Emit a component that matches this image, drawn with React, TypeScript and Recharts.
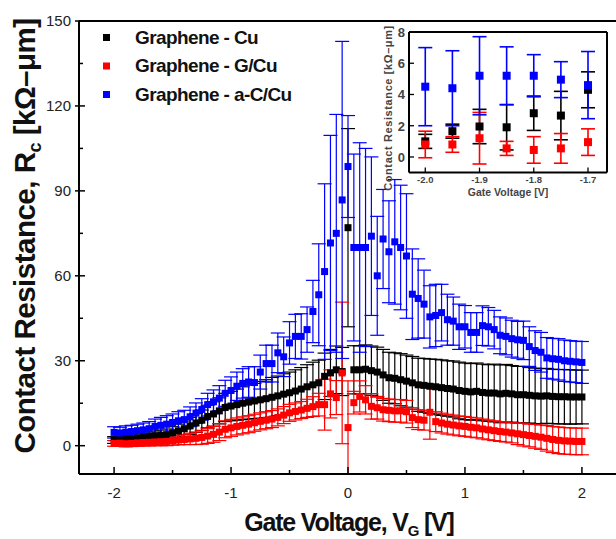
import React from 'react';
import { ScatterChart, Scatter, XAxis, YAxis, ErrorBar, ReferenceLine, Label } from 'recharts';

const voltage = [
  -2.0, -1.95, -1.9, -1.85, -1.8, -1.75, -1.7, -1.65, -1.6, -1.55,
  -1.5, -1.45, -1.4, -1.35, -1.3, -1.25, -1.2, -1.15, -1.1, -1.05,
  -1.0, -0.95, -0.9, -0.85, -0.8, -0.75, -0.7, -0.65, -0.6, -0.55,
  -0.5, -0.45, -0.4, -0.35, -0.3, -0.25, -0.2, -0.15, -0.1, -0.05,
  0.0,
  0.05, 0.1, 0.15, 0.2, 0.25, 0.3, 0.35, 0.4, 0.45, 0.5,
  0.55, 0.6, 0.65, 0.7, 0.75, 0.8, 0.85, 0.9, 0.95, 1.0,
  1.05, 1.1, 1.15, 1.2, 1.25, 1.3, 1.35, 1.4, 1.45, 1.5,
  1.55, 1.6, 1.65, 1.7, 1.75, 1.8, 1.85, 1.9, 1.95, 2.0,
];

const rcCu = [
  2.0, 2.2, 2.3, 2.4, 2.6, 2.9, 3.2, 3.5, 3.7, 3.9,
  4.5, 5.2, 6.0, 7.0, 8.0, 9.0, 10.3, 11.2, 12.3, 13.5,
  14.0, 14.5, 15.0, 15.4, 15.8, 16.2, 16.6, 17.1, 17.6, 18.2,
  18.7, 19.3, 20.0, 20.8, 21.5, 22.2, 24.5, 25.7, 26.8, 26.2,
  77.0,
  26.8, 26.8, 27.0, 26.5, 26.0, 25.0, 24.0, 23.8, 23.3, 22.8,
  22.2, 21.5, 21.3, 21.0, 20.8, 20.5, 20.2, 20.0, 19.5, 19.2,
  19.0, 19.2, 18.8, 18.6, 18.6, 18.3, 18.5, 18.3, 18.0, 18.0,
  17.8, 17.6, 17.5, 17.6, 17.4, 17.3, 17.3, 17.2, 17.2, 17.2,
];
const errCu = [
  1.2, 1.3, 1.3, 1.4, 1.5, 1.5, 1.6, 1.7, 1.8, 2.0,
  2.2, 2.4, 2.7, 3.0, 3.3, 3.6, 4.0, 4.3, 4.6, 5.0,
  5.2, 5.5, 5.8, 6.0, 6.2, 6.5, 6.7, 7.0, 7.0, 7.2,
  7.3, 7.5, 7.6, 7.8, 8.0, 8.0, 8.2, 8.3, 8.4, 8.5,
  35.0,
  8.5, 8.5, 8.6, 8.7, 8.8, 9.0, 9.0, 9.0, 9.2, 9.2,
  9.3, 9.4, 9.5, 9.6, 9.7, 9.8, 9.8, 9.9, 10.0, 10.0,
  10.0, 10.0, 10.0, 10.0, 10.2, 10.2, 10.2, 10.0, 10.0, 10.0,
  9.8, 9.8, 9.7, 9.7, 9.6, 9.6, 9.6, 9.6, 9.5, 9.5,
];

const rcGCu = [
  0.8, 0.9, 0.7, 0.8, 1.0, 1.1, 1.2, 1.3, 1.4, 1.5,
  1.8, 2.0, 2.2, 2.4, 2.6, 2.9, 3.4, 4.0, 4.8, 5.8,
  6.3, 6.8, 7.2, 7.6, 8.1, 8.6, 9.0, 9.4, 10.0, 10.8,
  11.6, 12.1, 12.6, 13.2, 13.8, 14.5, 14.5, 18.3, 17.0, 25.7,
  6.4,
  15.2, 17.4, 16.2, 13.9, 13.4, 12.7, 12.5, 12.3, 12.3, 12.0,
  9.9, 9.2, 9.0, 11.8, 8.5, 8.0, 7.6, 7.3, 7.0, 6.8,
  6.5, 6.3, 5.9, 5.6, 5.3, 5.0, 4.8, 4.5, 4.2, 3.9,
  3.6, 3.3, 3.0, 2.6, 2.2, 1.9, 1.7, 1.6, 1.5, 1.5,
];
const errGCu = [
  1.0, 1.0, 1.1, 1.1, 1.2, 1.2, 1.3, 1.3, 1.4, 1.5,
  1.6, 1.7, 1.8, 2.0, 2.2, 2.4, 2.6, 2.8, 3.0, 3.0,
  3.0, 3.0, 3.0, 3.0, 3.0, 3.0, 3.0, 3.0, 3.0, 3.0,
  3.0, 3.0, 3.0, 3.2, 3.5, 4.0, 9.0, 8.5, 6.0, 25.0,
  16.5,
  4.0, 5.5, 5.0, 4.5, 4.0, 4.0, 4.0, 4.0, 4.0, 4.0,
  3.5, 3.5, 3.5, 9.5, 3.5, 3.5, 3.5, 3.5, 3.5, 3.5,
  3.5, 3.5, 3.5, 3.5, 3.5, 3.5, 3.5, 3.5, 3.8, 4.0,
  4.0, 4.2, 4.3, 4.5, 4.6, 4.7, 4.7, 4.7, 4.7, 4.7,
];

const rcACCu = [
  4.7, 4.5, 4.8, 5.0, 5.3, 5.6, 6.0, 6.8, 7.2, 7.6,
  8.2, 8.8, 9.2, 10.2, 11.5, 12.8, 14.5, 15.5, 16.8, 18.5,
  19.5, 21.0, 22.0, 22.5, 22.3, 26.0, 29.0, 29.0, 32.8, 31.4,
  36.3, 38.6, 38.6, 41.0, 47.4, 53.3, 61.5, 71.6, 75.0, 86.8,
  98.6,
  70.0, 70.0, 70.0, 74.0, 60.0, 73.0, 68.5, 72.0, 70.0, 67.0,
  53.5, 52.0, 50.0, 45.5, 46.0, 47.0, 44.5, 44.0, 42.0, 42.0,
  40.0, 40.0, 42.4, 42.0, 41.0, 39.0, 38.6, 37.8, 37.4, 37.2,
  35.0, 33.6, 33.0, 31.0, 30.7, 30.5, 30.0, 29.8, 29.6, 29.4,
];
const errACCu = [
  2.0, 2.0, 2.2, 2.2, 2.3, 2.4, 2.5, 2.6, 2.8, 3.0,
  3.0, 3.2, 3.3, 3.5, 3.6, 3.8, 4.0, 4.2, 4.4, 4.6,
  4.8, 5.0, 5.2, 5.4, 5.6, 6.0, 6.5, 6.5, 7.0, 7.0,
  7.5, 7.8, 8.0, 8.0, 11.0, 18.0, 31.0, 38.0, 42.0, 56.0,
  18.0,
  33.0, 37.0, 35.0, 28.0, 21.0, 17.5, 18.0, 22.0, 22.0, 22.0,
  16.0, 14.0, 12.0, 11.0, 11.0, 10.0, 9.0, 8.5, 8.0, 7.5,
  7.0, 7.0, 7.0, 6.8, 6.8, 6.5, 6.5, 6.5, 6.5, 6.8,
  7.0, 7.0, 7.0, 7.2, 7.2, 7.3, 7.3, 7.3, 7.3, 7.4,
];

const insetVoltage = [-2.0, -1.95, -1.9, -1.85, -1.8, -1.75, -1.7];
const insetRcCu = [1.0, 1.65, 1.95, 1.9, 2.8, 2.65, 4.3];
const insetErrCu = [0.45, 0.45, 1.1, 1.45, 1.1, 1.55, 1.15];
const insetRcGCu = [0.8, 0.8, 1.2, 0.55, 0.45, 0.55, 0.95];
const insetErrGCu = [0.85, 0.5, 1.65, 0.45, 0.85, 0.95, 0.85];
const insetRcACCu = [4.5, 4.4, 5.2, 5.2, 5.2, 4.95, 4.6];
const insetErrACCu = [2.5, 2.4, 2.5, 1.85, 1.35, 1.15, 2.15];

const seriesNames = ['Graphene - Cu', 'Graphene - G/Cu', 'Graphene - a-C/Cu'];
const seriesColors = ['#000000', '#ff0000', '#0000ff'];

const xTicks = [-2, -1.5, -1, -0.5, 0, 0.5, 1, 1.5, 2];
const yTicks = [0, 15, 30, 45, 60, 75, 90, 105, 120, 135, 150];
const insetXTicks = [-2.0, -1.95, -1.9, -1.85, -1.8, -1.75, -1.7];
const insetYTicks = [0, 1, 2, 3, 4, 5, 6, 7, 8];

const FONT = '"Liberation Sans", Arial, sans-serif';

const build = (xs: number[], ys: number[], es: number[]) =>
  xs.map((x, i) => ({ x, y: ys[i], err: es[i] }));

const mainData = [
  build(voltage, rcCu, errCu),
  build(voltage, rcGCu, errGCu),
  build(voltage, rcACCu, errACCu),
];
const insetData = [
  build(insetVoltage, insetRcCu, insetErrCu),
  build(insetVoltage, insetRcGCu, insetErrGCu),
  build(insetVoltage, insetRcACCu, insetErrACCu),
];

const square = (size: number, color: string) => (props: any) => {
  const { cx, cy } = props;
  if (cx == null || cy == null) return <g />;
  return <rect x={cx - size / 2} y={cy - size / 2} width={size} height={size} fill={color} />;
};

const MainXTick = (props: any) => {
  const { x, y, payload } = props;
  const v = payload.value;
  const major = Number.isInteger(v);
  return (
    <g>
      <line x1={x} x2={x} y1={y} y2={y - (major ? 7 : 4)} stroke="#000" strokeWidth={1.5} />
      {major && (
        <text x={x} y={y + 24} textAnchor="middle" fontFamily={FONT} fontSize={15} fill="#222">
          {String(v)}
        </text>
      )}
    </g>
  );
};

const MainYTick = (props: any) => {
  const { x, y, payload } = props;
  const v = payload.value;
  const major = v % 30 === 0;
  return (
    <g>
      <line x1={major ? x - 4 : x} x2={x + (major ? 6 : 4)} y1={y} y2={y} stroke="#000" strokeWidth={1.5} />
      {major && (
        <text x={x - 8} y={y + 5} textAnchor="end" fontFamily={FONT} fontSize={15} fill="#222">
          {String(v)}
        </text>
      )}
    </g>
  );
};

const InsetXTick = (props: any) => {
  const { x, y, payload } = props;
  const v = payload.value;
  const major = Math.abs(Math.round(v * 10) - v * 10) < 1e-6;
  return (
    <g>
      <line x1={x} x2={x} y1={y} y2={y - (major ? 5 : 3)} stroke="#000" strokeWidth={1.3} />
      {major && (
        <text x={x} y={y + 10} textAnchor="middle" fontFamily={FONT} fontSize={9.5} fontWeight="bold" fill="#444">
          {v.toFixed(1)}
        </text>
      )}
    </g>
  );
};

const InsetYTick = (props: any) => {
  const { x, y, payload } = props;
  const v = payload.value;
  const major = v % 2 === 0;
  return (
    <g>
      <line x1={x} x2={x + (major ? 5 : 3)} y1={y} y2={y} stroke="#000" strokeWidth={1.3} />
      {major && (
        <text x={x - 4} y={y + 5} textAnchor="end" fontFamily={FONT} fontSize={13} fontWeight="bold" fill="#444">
          {String(v)}
        </text>
      )}
    </g>
  );
};

const MainYTitle = () => (
  <text
    transform="translate(35,236) rotate(-90)"
    textAnchor="middle"
    fontFamily={FONT}
    fontSize={29.5}
    fontWeight="bold"
    fill="#111"
    letterSpacing={-0.5}
  >
    Contact Resistance, R<tspan fontSize={18} dy={6}>c</tspan>
    <tspan dy={-6}> [kΩ–μm]</tspan>
  </text>
);

const MainXTitle = () => (
  <text x={349} y={531} textAnchor="middle" fontFamily={FONT} fontSize={25} fontWeight="bold" fill="#111" letterSpacing={-1.2}>
    Gate Voltage, V<tspan fontSize={15} dy={5}>G</tspan>
    <tspan dy={-5}> [V]</tspan>
  </text>
);

const InsetYTitle = () => (
  <text
    transform="translate(22,88) rotate(-90)"
    textAnchor="middle"
    fontFamily={FONT}
    fontSize={11}
    fontWeight="bold"
    fill="#444"
    letterSpacing={0.6}
  >
    Contact Resistance [kΩ–μm]
  </text>
);

const InsetXTitle = () => (
  <text x={138} y={176} textAnchor="middle" fontFamily={FONT} fontSize={10.5} fontWeight="bold" fill="#444">
    Gate Voltage [V]
  </text>
);

export default function App() {
  return (
    <div style={{ position: 'absolute', left: 0, top: 0, width: 616, height: 539, overflow: 'hidden', background: '#fff' }}>
      <div style={{ position: 'absolute', left: 0, top: 0 }}>
        <ScatterChart width={622} height={539} margin={{ top: 21, right: 5, bottom: 0, left: 0 }}>
          <XAxis
            type="number"
            dataKey="x"
            domain={[-2.3, 2.3]}
            ticks={xTicks}
            tick={<MainXTick />}
            tickLine={false}
            tickSize={0}
            tickMargin={0}
            axisLine={{ stroke: '#000', strokeWidth: 2 }}
            height={65}
            allowDataOverflow
          >
            <Label content={<MainXTitle />} />
          </XAxis>
          <YAxis
            type="number"
            dataKey="y"
            domain={[-10, 150]}
            ticks={yTicks}
            tick={<MainYTick />}
            tickLine={false}
            tickSize={0}
            tickMargin={0}
            axisLine={{ stroke: '#000', strokeWidth: 2 }}
            width={79}
            allowDataOverflow
          >
            <Label content={<MainYTitle />} />
          </YAxis>
          <ReferenceLine y={150} stroke="#000" strokeWidth={2} />
          {mainData.map((d, i) => (
            <Scatter key={i} name={seriesNames[i]} data={d} isAnimationActive={false} shape={square(7, seriesColors[i])}>
              <ErrorBar dataKey="err" direction="y" width={7} stroke={seriesColors[i]} strokeWidth={1.2} />
            </Scatter>
          ))}
        </ScatterChart>
      </div>

      <svg style={{ position: 'absolute', left: 0, top: 0 }} width={616} height={120}>
        {seriesNames.map((n, i) => (
          <g key={n}>
            <rect x={103} y={34 + i * 28.5} width={7} height={7} fill={seriesColors[i]} />
            <text x={135} y={43.5 + i * 28.5} fontFamily={FONT} fontSize={19} fontWeight="bold" fill="#111" letterSpacing={-0.6}>
              {n}
            </text>
          </g>
        ))}
      </svg>

      <div style={{ position: 'absolute', left: 370, top: 20 }}>
        <ScatterChart width={245} height={190} margin={{ top: 12, right: 8, bottom: 0, left: 0 }}>
          <XAxis
            type="number"
            dataKey="x"
            domain={[-2.03, -1.665]}
            ticks={insetXTicks}
            tick={<InsetXTick />}
            tickLine={false}
            tickSize={0}
            tickMargin={0}
            axisLine={{ stroke: '#000', strokeWidth: 2 }}
            height={37.4}
            allowDataOverflow
          >
            <Label content={<InsetXTitle />} />
          </XAxis>
          <YAxis
            type="number"
            dataKey="y"
            domain={[-1, 8]}
            ticks={insetYTicks}
            tick={<InsetYTick />}
            tickLine={false}
            tickSize={0}
            tickMargin={0}
            axisLine={{ stroke: '#000', strokeWidth: 2 }}
            width={39}
            allowDataOverflow
          >
            <Label content={<InsetYTitle />} />
          </YAxis>
          <ReferenceLine y={8} stroke="#000" strokeWidth={2} />
          <ReferenceLine x={-1.665} stroke="#000" strokeWidth={2} />
          {insetData.map((d, i) => (
            <Scatter key={i} name={seriesNames[i]} data={d} isAnimationActive={false} shape={square(8, seriesColors[i])}>
              <ErrorBar dataKey="err" direction="y" width={7} stroke={seriesColors[i]} strokeWidth={1.6} />
            </Scatter>
          ))}
        </ScatterChart>
      </div>
    </div>
  );
}
